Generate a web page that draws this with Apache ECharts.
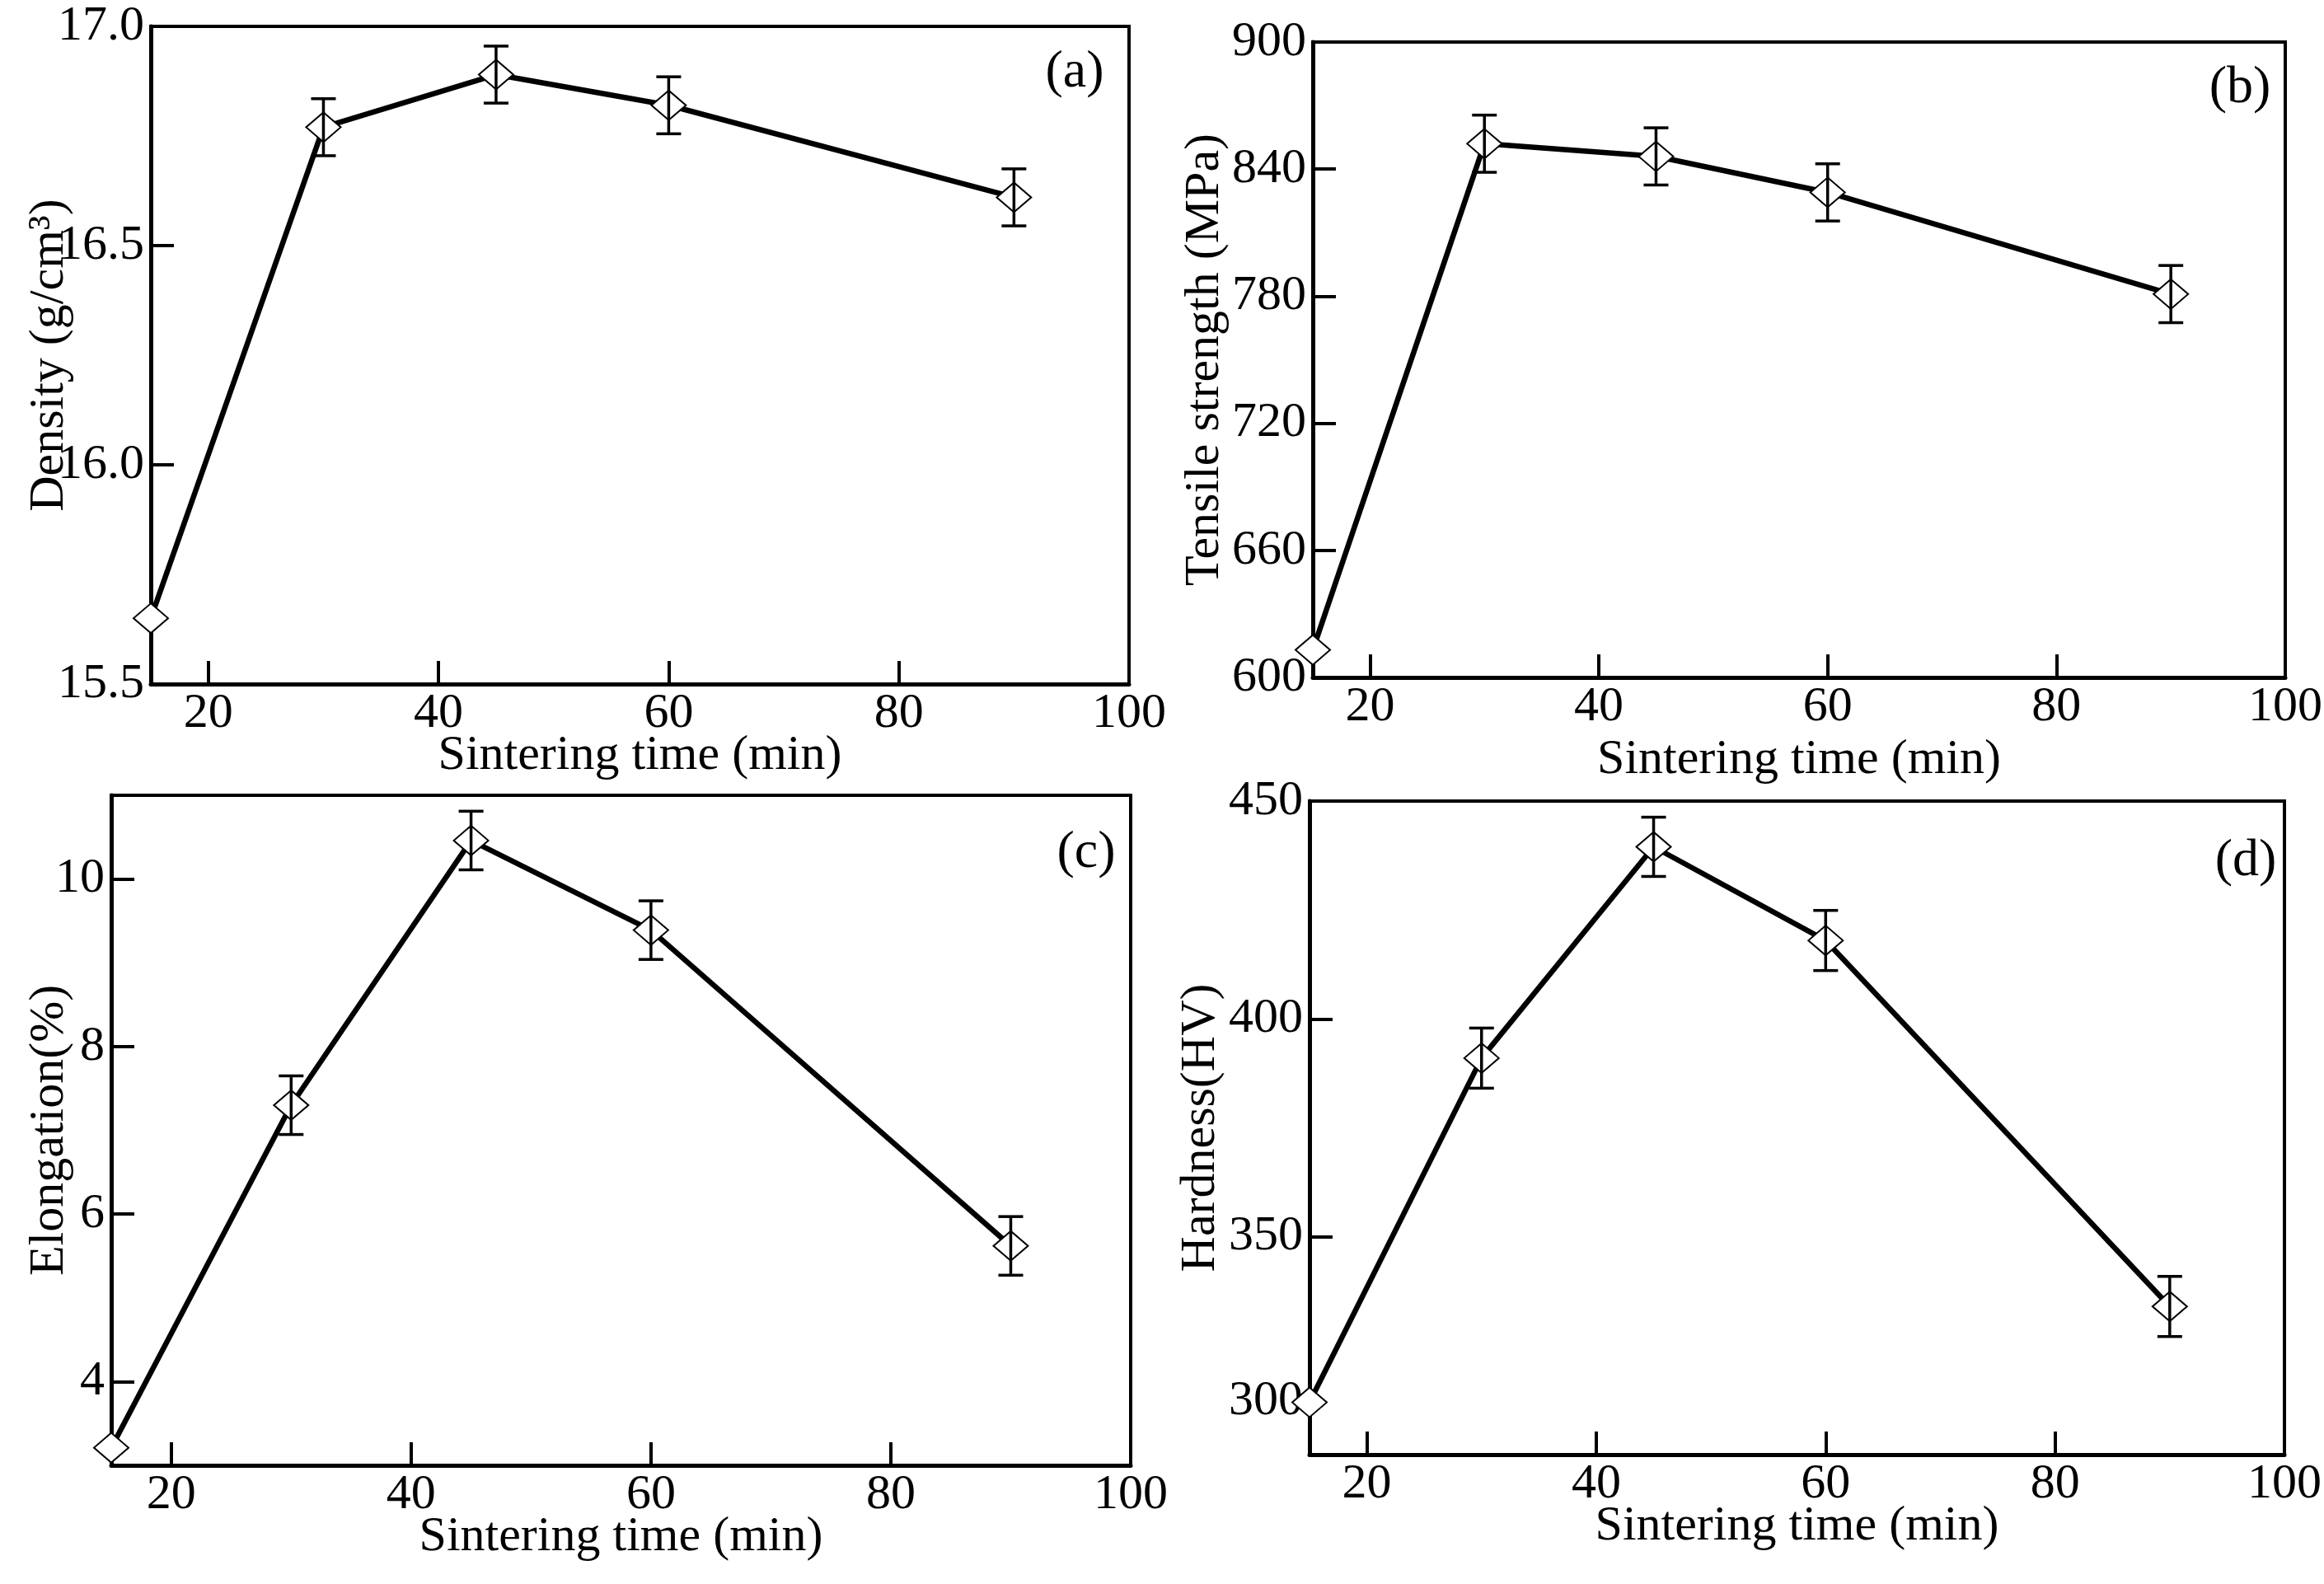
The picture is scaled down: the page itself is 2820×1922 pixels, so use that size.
<!DOCTYPE html>
<html>
<head>
<meta charset="utf-8">
<title>Sintering time</title>
<script src="https://cdn.jsdelivr.net/npm/echarts@6.0.0/dist/echarts.min.js"></script>
<style>
  html, body { margin: 0; padding: 0; background: #fff; }
  #chart { width: 2820px; height: 1922px; }
</style>
</head>
<body>
<div id="chart"></div>
<script>
// values
const sinteringTime = [15, 30, 45, 60, 90];

const density = [15.65, 16.77, 16.89, 16.82, 16.61];
const densityErr = [0, 0.065, 0.065, 0.065, 0.065];

const tensile = [613, 852, 846, 829, 781];
const tensileErr = [0, 13.5, 13.5, 13.5, 13.5];

const elongation = [3.21, 7.3, 10.46, 9.39, 5.62];
const elongationErr = [0, 0.35, 0.35, 0.35, 0.35];

const hardness = [312, 391, 439.5, 418, 334];
const hardnessErr = [0, 6.9, 6.8, 6.9, 6.9];

const xLabelValues = [20, 40, 60, 80, 100];
const xTickValues = [20, 40, 60, 80];
const elongationTicks = [4, 6, 8, 10];
const panelLetters = ['(a)', '(b)', '(c)', '(d)'];

const FONT = 'Liberation Serif';
const FS = 60;

const panels = [
  {
    grid: { left: 183, top: 32, width: 1187, height: 798 },
    values: density, errors: densityErr, yName: 'Density (g/cm³)',
    yAxis: { min: 15.5, max: 17, interval: 0.5 },
    fmt: (v) => v.toFixed(1), yNameGap: 93, xNameGap: 57, letter: [1304, 88]
  },
  {
    grid: { left: 1593, top: 51, width: 1180, height: 771 },
    values: tensile, errors: tensileErr, yName: 'Tensile strength (MPa)',
    yAxis: { min: 600, max: 900, interval: 60 },
    fmt: (v) => String(v), yNameGap: 101, xNameGap: 70, letter: [2718, 107]
  },
  {
    grid: { left: 135, top: 965, width: 1237, height: 813 },
    values: elongation, errors: elongationErr, yName: 'Elongation(%)',
    yAxis: { min: 3, max: 11 }, ticks: elongationTicks,
    fmt: (v) => String(v), yNameGap: 45, xNameGap: 57, letter: [1318, 1035]
  },
  {
    grid: { left: 1589, top: 972, width: 1183, height: 793 },
    values: hardness, errors: hardnessErr, yName: 'Hardness(HV)',
    yAxis: { min: 300, max: 450, interval: 50 },
    // the 300 label sits above the corner in the original
    fmt: (v) => (v === 300 ? '{lift|300}' : String(v)), yNameGap: 102, xNameGap: 57, letter: [2725, 1045]
  }
];

const textStyle = { fontFamily: FONT, fontSize: FS, color: '#000' };

const renderErrorBar = (params, api) => {
  const x = api.value(0);
  const y = api.value(1);
  const e = api.value(2);
  const top = api.coord([x, y + e]);
  const bot = api.coord([x, y - e]);
  const half = 15;
  const style = { stroke: '#000', lineWidth: 3.5 };
  return {
    type: 'group',
    children: [
      { type: 'line', shape: { x1: top[0], y1: top[1], x2: bot[0], y2: bot[1] }, style },
      { type: 'line', shape: { x1: top[0] - half, y1: top[1], x2: top[0] + half, y2: top[1] }, style },
      { type: 'line', shape: { x1: bot[0] - half, y1: bot[1], x2: bot[0] + half, y2: bot[1] }, style }
    ]
  };
};

const grids = [];
const xAxes = [];
const yAxes = [];
const series = [];

panels.forEach((p, i) => {
  grids.push({
    ...p.grid, show: true, borderColor: '#000', borderWidth: 4,
    containLabel: false, outerBoundsMode: 'none'
  });

  xAxes.push({
    type: 'value', gridIndex: i, min: 15, max: 100,
    name: 'Sintering time (min)', nameLocation: 'middle', nameGap: p.xNameGap,
    nameMoveOverlap: false, nameTextStyle: textStyle,
    axisLine: { show: true, onZero: false, lineStyle: { color: '#000', width: 5 } },
    axisTick: { show: true, inside: true, length: 28, customValues: xTickValues, lineStyle: { color: '#000', width: 4 } },
    axisLabel: { ...textStyle, margin: 6, customValues: xLabelValues },
    splitLine: { show: false }
  });

  const yAxis = {
    type: 'value', gridIndex: i, ...p.yAxis,
    name: p.yName, nameLocation: 'middle', nameGap: p.yNameGap,
    nameMoveOverlap: false, nameTextStyle: textStyle,
    axisLine: { show: true, onZero: false, lineStyle: { color: '#000', width: 5 } },
    axisTick: { show: true, inside: true, length: 28, lineStyle: { color: '#000', width: 4 } },
    axisLabel: {
      ...textStyle, margin: 8, formatter: p.fmt,
      rich: { lift: { fontFamily: FONT, fontSize: FS, color: '#000', padding: [0, 0, 130, 0] } }
    },
    splitLine: { show: false }
  };
  if (p.ticks) {
    yAxis.axisTick.customValues = p.ticks;
    yAxis.axisLabel.customValues = p.ticks;
  }
  yAxes.push(yAxis);

  series.push({
    type: 'line', xAxisIndex: i, yAxisIndex: i,
    data: sinteringTime.map((t, k) => [t, p.values[k]]),
    symbol: 'emptyDiamond', symbolSize: [42, 36], clip: false,
    lineStyle: { color: '#000', width: 6.5 },
    itemStyle: { color: '#000', borderColor: '#000', borderWidth: 4.5 },
    animation: false, z: 2
  });

  series.push({
    type: 'custom', xAxisIndex: i, yAxisIndex: i,
    data: sinteringTime.map((t, k) => [t, p.values[k], p.errors[k]]).filter((d) => d[2] > 0),
    encode: { x: 0, y: 1 },
    renderItem: renderErrorBar, clip: false, animation: false, z: 3
  });
});

const chart = echarts.init(document.getElementById('chart'));
chart.setOption({
  backgroundColor: '#fff',
  animation: false,
  grid: grids,
  xAxis: xAxes,
  yAxis: yAxes,
  series,
  graphic: panels.map((p, i) => ({
    type: 'text', x: p.letter[0], y: p.letter[1], z: 10,
    style: {
      text: panelLetters[i], fontFamily: FONT, fontSize: 64, fill: '#000',
      textAlign: 'center', textVerticalAlign: 'middle'
    }
  }))
});
</script>
</body>
</html>
